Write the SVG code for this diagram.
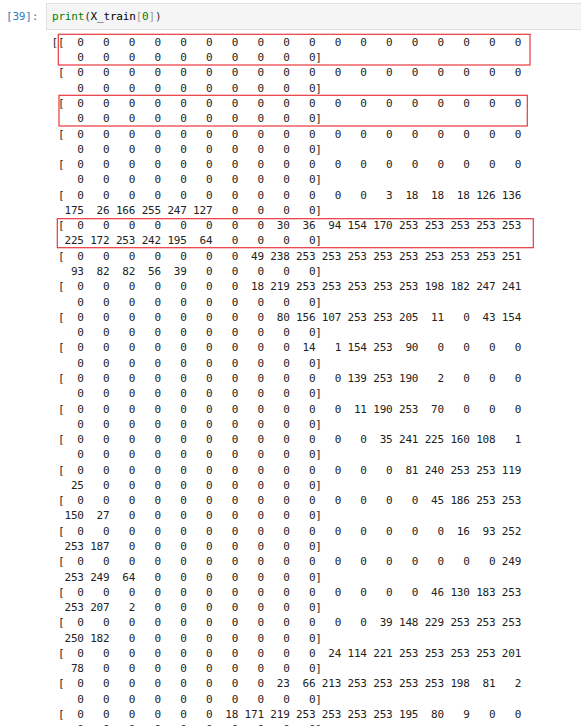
<svg xmlns="http://www.w3.org/2000/svg" width="581" height="726" viewBox="0 0 581 726">
<style>
.mono{font-family:"DejaVu Sans Mono","Liberation Mono",monospace;font-size:11px;letter-spacing:-0.19px}
.out{fill:#222}
.hl{fill:none;stroke:#e8383d;stroke-width:1.2}
</style>
<rect x="0" y="0" width="581" height="726" fill="#ffffff"/>
<g id="prompt">
<text class="mono" x="6" y="20" fill="#307fc1">[39]:</text>
</g>
<g id="input-cell">
<rect x="46.5" y="3.5" width="540" height="26" fill="#f5f5f5" stroke="#e0e0e0" stroke-width="1"/>
<text class="mono" x="52" y="20"><tspan fill="#008000">print</tspan><tspan fill="#333">(</tspan><tspan fill="#000">X_train</tspan><tspan fill="#999">[</tspan><tspan fill="#008000">0</tspan><tspan fill="#999">]</tspan><tspan fill="#333">)</tspan></text>
</g>
<g id="output" class="mono out">
<text x="51.6" y="45.9">[[&#160;&#160;0&#160;&#160;&#160;0&#160;&#160;&#160;0&#160;&#160;&#160;0&#160;&#160;&#160;0&#160;&#160;&#160;0&#160;&#160;&#160;0&#160;&#160;&#160;0&#160;&#160;&#160;0&#160;&#160;&#160;0&#160;&#160;&#160;0&#160;&#160;&#160;0&#160;&#160;&#160;0&#160;&#160;&#160;0&#160;&#160;&#160;0&#160;&#160;&#160;0&#160;&#160;&#160;0&#160;&#160;&#160;0</text>
<text x="51.6" y="61.18">&#160;&#160;&#160;&#160;0&#160;&#160;&#160;0&#160;&#160;&#160;0&#160;&#160;&#160;0&#160;&#160;&#160;0&#160;&#160;&#160;0&#160;&#160;&#160;0&#160;&#160;&#160;0&#160;&#160;&#160;0&#160;&#160;&#160;0]</text>
<text x="51.6" y="76.45">&#160;[&#160;&#160;0&#160;&#160;&#160;0&#160;&#160;&#160;0&#160;&#160;&#160;0&#160;&#160;&#160;0&#160;&#160;&#160;0&#160;&#160;&#160;0&#160;&#160;&#160;0&#160;&#160;&#160;0&#160;&#160;&#160;0&#160;&#160;&#160;0&#160;&#160;&#160;0&#160;&#160;&#160;0&#160;&#160;&#160;0&#160;&#160;&#160;0&#160;&#160;&#160;0&#160;&#160;&#160;0&#160;&#160;&#160;0</text>
<text x="51.6" y="91.73">&#160;&#160;&#160;&#160;0&#160;&#160;&#160;0&#160;&#160;&#160;0&#160;&#160;&#160;0&#160;&#160;&#160;0&#160;&#160;&#160;0&#160;&#160;&#160;0&#160;&#160;&#160;0&#160;&#160;&#160;0&#160;&#160;&#160;0]</text>
<text x="51.6" y="107.0">&#160;[&#160;&#160;0&#160;&#160;&#160;0&#160;&#160;&#160;0&#160;&#160;&#160;0&#160;&#160;&#160;0&#160;&#160;&#160;0&#160;&#160;&#160;0&#160;&#160;&#160;0&#160;&#160;&#160;0&#160;&#160;&#160;0&#160;&#160;&#160;0&#160;&#160;&#160;0&#160;&#160;&#160;0&#160;&#160;&#160;0&#160;&#160;&#160;0&#160;&#160;&#160;0&#160;&#160;&#160;0&#160;&#160;&#160;0</text>
<text x="51.6" y="122.28">&#160;&#160;&#160;&#160;0&#160;&#160;&#160;0&#160;&#160;&#160;0&#160;&#160;&#160;0&#160;&#160;&#160;0&#160;&#160;&#160;0&#160;&#160;&#160;0&#160;&#160;&#160;0&#160;&#160;&#160;0&#160;&#160;&#160;0]</text>
<text x="51.6" y="137.55">&#160;[&#160;&#160;0&#160;&#160;&#160;0&#160;&#160;&#160;0&#160;&#160;&#160;0&#160;&#160;&#160;0&#160;&#160;&#160;0&#160;&#160;&#160;0&#160;&#160;&#160;0&#160;&#160;&#160;0&#160;&#160;&#160;0&#160;&#160;&#160;0&#160;&#160;&#160;0&#160;&#160;&#160;0&#160;&#160;&#160;0&#160;&#160;&#160;0&#160;&#160;&#160;0&#160;&#160;&#160;0&#160;&#160;&#160;0</text>
<text x="51.6" y="152.83">&#160;&#160;&#160;&#160;0&#160;&#160;&#160;0&#160;&#160;&#160;0&#160;&#160;&#160;0&#160;&#160;&#160;0&#160;&#160;&#160;0&#160;&#160;&#160;0&#160;&#160;&#160;0&#160;&#160;&#160;0&#160;&#160;&#160;0]</text>
<text x="51.6" y="168.1">&#160;[&#160;&#160;0&#160;&#160;&#160;0&#160;&#160;&#160;0&#160;&#160;&#160;0&#160;&#160;&#160;0&#160;&#160;&#160;0&#160;&#160;&#160;0&#160;&#160;&#160;0&#160;&#160;&#160;0&#160;&#160;&#160;0&#160;&#160;&#160;0&#160;&#160;&#160;0&#160;&#160;&#160;0&#160;&#160;&#160;0&#160;&#160;&#160;0&#160;&#160;&#160;0&#160;&#160;&#160;0&#160;&#160;&#160;0</text>
<text x="51.6" y="183.38">&#160;&#160;&#160;&#160;0&#160;&#160;&#160;0&#160;&#160;&#160;0&#160;&#160;&#160;0&#160;&#160;&#160;0&#160;&#160;&#160;0&#160;&#160;&#160;0&#160;&#160;&#160;0&#160;&#160;&#160;0&#160;&#160;&#160;0]</text>
<text x="51.6" y="198.65">&#160;[&#160;&#160;0&#160;&#160;&#160;0&#160;&#160;&#160;0&#160;&#160;&#160;0&#160;&#160;&#160;0&#160;&#160;&#160;0&#160;&#160;&#160;0&#160;&#160;&#160;0&#160;&#160;&#160;0&#160;&#160;&#160;0&#160;&#160;&#160;0&#160;&#160;&#160;0&#160;&#160;&#160;3&#160;&#160;18&#160;&#160;18&#160;&#160;18&#160;126&#160;136</text>
<text x="51.6" y="213.93">&#160;&#160;175&#160;&#160;26&#160;166&#160;255&#160;247&#160;127&#160;&#160;&#160;0&#160;&#160;&#160;0&#160;&#160;&#160;0&#160;&#160;&#160;0]</text>
<text x="51.6" y="229.2">&#160;[&#160;&#160;0&#160;&#160;&#160;0&#160;&#160;&#160;0&#160;&#160;&#160;0&#160;&#160;&#160;0&#160;&#160;&#160;0&#160;&#160;&#160;0&#160;&#160;&#160;0&#160;&#160;30&#160;&#160;36&#160;&#160;94&#160;154&#160;170&#160;253&#160;253&#160;253&#160;253&#160;253</text>
<text x="51.6" y="244.48">&#160;&#160;225&#160;172&#160;253&#160;242&#160;195&#160;&#160;64&#160;&#160;&#160;0&#160;&#160;&#160;0&#160;&#160;&#160;0&#160;&#160;&#160;0]</text>
<text x="51.6" y="259.75">&#160;[&#160;&#160;0&#160;&#160;&#160;0&#160;&#160;&#160;0&#160;&#160;&#160;0&#160;&#160;&#160;0&#160;&#160;&#160;0&#160;&#160;&#160;0&#160;&#160;49&#160;238&#160;253&#160;253&#160;253&#160;253&#160;253&#160;253&#160;253&#160;253&#160;251</text>
<text x="51.6" y="275.03">&#160;&#160;&#160;93&#160;&#160;82&#160;&#160;82&#160;&#160;56&#160;&#160;39&#160;&#160;&#160;0&#160;&#160;&#160;0&#160;&#160;&#160;0&#160;&#160;&#160;0&#160;&#160;&#160;0]</text>
<text x="51.6" y="290.3">&#160;[&#160;&#160;0&#160;&#160;&#160;0&#160;&#160;&#160;0&#160;&#160;&#160;0&#160;&#160;&#160;0&#160;&#160;&#160;0&#160;&#160;&#160;0&#160;&#160;18&#160;219&#160;253&#160;253&#160;253&#160;253&#160;253&#160;198&#160;182&#160;247&#160;241</text>
<text x="51.6" y="305.58">&#160;&#160;&#160;&#160;0&#160;&#160;&#160;0&#160;&#160;&#160;0&#160;&#160;&#160;0&#160;&#160;&#160;0&#160;&#160;&#160;0&#160;&#160;&#160;0&#160;&#160;&#160;0&#160;&#160;&#160;0&#160;&#160;&#160;0]</text>
<text x="51.6" y="320.85">&#160;[&#160;&#160;0&#160;&#160;&#160;0&#160;&#160;&#160;0&#160;&#160;&#160;0&#160;&#160;&#160;0&#160;&#160;&#160;0&#160;&#160;&#160;0&#160;&#160;&#160;0&#160;&#160;80&#160;156&#160;107&#160;253&#160;253&#160;205&#160;&#160;11&#160;&#160;&#160;0&#160;&#160;43&#160;154</text>
<text x="51.6" y="336.13">&#160;&#160;&#160;&#160;0&#160;&#160;&#160;0&#160;&#160;&#160;0&#160;&#160;&#160;0&#160;&#160;&#160;0&#160;&#160;&#160;0&#160;&#160;&#160;0&#160;&#160;&#160;0&#160;&#160;&#160;0&#160;&#160;&#160;0]</text>
<text x="51.6" y="351.4">&#160;[&#160;&#160;0&#160;&#160;&#160;0&#160;&#160;&#160;0&#160;&#160;&#160;0&#160;&#160;&#160;0&#160;&#160;&#160;0&#160;&#160;&#160;0&#160;&#160;&#160;0&#160;&#160;&#160;0&#160;&#160;14&#160;&#160;&#160;1&#160;154&#160;253&#160;&#160;90&#160;&#160;&#160;0&#160;&#160;&#160;0&#160;&#160;&#160;0&#160;&#160;&#160;0</text>
<text x="51.6" y="366.68">&#160;&#160;&#160;&#160;0&#160;&#160;&#160;0&#160;&#160;&#160;0&#160;&#160;&#160;0&#160;&#160;&#160;0&#160;&#160;&#160;0&#160;&#160;&#160;0&#160;&#160;&#160;0&#160;&#160;&#160;0&#160;&#160;&#160;0]</text>
<text x="51.6" y="381.95">&#160;[&#160;&#160;0&#160;&#160;&#160;0&#160;&#160;&#160;0&#160;&#160;&#160;0&#160;&#160;&#160;0&#160;&#160;&#160;0&#160;&#160;&#160;0&#160;&#160;&#160;0&#160;&#160;&#160;0&#160;&#160;&#160;0&#160;&#160;&#160;0&#160;139&#160;253&#160;190&#160;&#160;&#160;2&#160;&#160;&#160;0&#160;&#160;&#160;0&#160;&#160;&#160;0</text>
<text x="51.6" y="397.23">&#160;&#160;&#160;&#160;0&#160;&#160;&#160;0&#160;&#160;&#160;0&#160;&#160;&#160;0&#160;&#160;&#160;0&#160;&#160;&#160;0&#160;&#160;&#160;0&#160;&#160;&#160;0&#160;&#160;&#160;0&#160;&#160;&#160;0]</text>
<text x="51.6" y="412.5">&#160;[&#160;&#160;0&#160;&#160;&#160;0&#160;&#160;&#160;0&#160;&#160;&#160;0&#160;&#160;&#160;0&#160;&#160;&#160;0&#160;&#160;&#160;0&#160;&#160;&#160;0&#160;&#160;&#160;0&#160;&#160;&#160;0&#160;&#160;&#160;0&#160;&#160;11&#160;190&#160;253&#160;&#160;70&#160;&#160;&#160;0&#160;&#160;&#160;0&#160;&#160;&#160;0</text>
<text x="51.6" y="427.78">&#160;&#160;&#160;&#160;0&#160;&#160;&#160;0&#160;&#160;&#160;0&#160;&#160;&#160;0&#160;&#160;&#160;0&#160;&#160;&#160;0&#160;&#160;&#160;0&#160;&#160;&#160;0&#160;&#160;&#160;0&#160;&#160;&#160;0]</text>
<text x="51.6" y="443.05">&#160;[&#160;&#160;0&#160;&#160;&#160;0&#160;&#160;&#160;0&#160;&#160;&#160;0&#160;&#160;&#160;0&#160;&#160;&#160;0&#160;&#160;&#160;0&#160;&#160;&#160;0&#160;&#160;&#160;0&#160;&#160;&#160;0&#160;&#160;&#160;0&#160;&#160;&#160;0&#160;&#160;35&#160;241&#160;225&#160;160&#160;108&#160;&#160;&#160;1</text>
<text x="51.6" y="458.33">&#160;&#160;&#160;&#160;0&#160;&#160;&#160;0&#160;&#160;&#160;0&#160;&#160;&#160;0&#160;&#160;&#160;0&#160;&#160;&#160;0&#160;&#160;&#160;0&#160;&#160;&#160;0&#160;&#160;&#160;0&#160;&#160;&#160;0]</text>
<text x="51.6" y="473.6">&#160;[&#160;&#160;0&#160;&#160;&#160;0&#160;&#160;&#160;0&#160;&#160;&#160;0&#160;&#160;&#160;0&#160;&#160;&#160;0&#160;&#160;&#160;0&#160;&#160;&#160;0&#160;&#160;&#160;0&#160;&#160;&#160;0&#160;&#160;&#160;0&#160;&#160;&#160;0&#160;&#160;&#160;0&#160;&#160;81&#160;240&#160;253&#160;253&#160;119</text>
<text x="51.6" y="488.88">&#160;&#160;&#160;25&#160;&#160;&#160;0&#160;&#160;&#160;0&#160;&#160;&#160;0&#160;&#160;&#160;0&#160;&#160;&#160;0&#160;&#160;&#160;0&#160;&#160;&#160;0&#160;&#160;&#160;0&#160;&#160;&#160;0]</text>
<text x="51.6" y="504.15">&#160;[&#160;&#160;0&#160;&#160;&#160;0&#160;&#160;&#160;0&#160;&#160;&#160;0&#160;&#160;&#160;0&#160;&#160;&#160;0&#160;&#160;&#160;0&#160;&#160;&#160;0&#160;&#160;&#160;0&#160;&#160;&#160;0&#160;&#160;&#160;0&#160;&#160;&#160;0&#160;&#160;&#160;0&#160;&#160;&#160;0&#160;&#160;45&#160;186&#160;253&#160;253</text>
<text x="51.6" y="519.43">&#160;&#160;150&#160;&#160;27&#160;&#160;&#160;0&#160;&#160;&#160;0&#160;&#160;&#160;0&#160;&#160;&#160;0&#160;&#160;&#160;0&#160;&#160;&#160;0&#160;&#160;&#160;0&#160;&#160;&#160;0]</text>
<text x="51.6" y="534.7">&#160;[&#160;&#160;0&#160;&#160;&#160;0&#160;&#160;&#160;0&#160;&#160;&#160;0&#160;&#160;&#160;0&#160;&#160;&#160;0&#160;&#160;&#160;0&#160;&#160;&#160;0&#160;&#160;&#160;0&#160;&#160;&#160;0&#160;&#160;&#160;0&#160;&#160;&#160;0&#160;&#160;&#160;0&#160;&#160;&#160;0&#160;&#160;&#160;0&#160;&#160;16&#160;&#160;93&#160;252</text>
<text x="51.6" y="549.98">&#160;&#160;253&#160;187&#160;&#160;&#160;0&#160;&#160;&#160;0&#160;&#160;&#160;0&#160;&#160;&#160;0&#160;&#160;&#160;0&#160;&#160;&#160;0&#160;&#160;&#160;0&#160;&#160;&#160;0]</text>
<text x="51.6" y="565.25">&#160;[&#160;&#160;0&#160;&#160;&#160;0&#160;&#160;&#160;0&#160;&#160;&#160;0&#160;&#160;&#160;0&#160;&#160;&#160;0&#160;&#160;&#160;0&#160;&#160;&#160;0&#160;&#160;&#160;0&#160;&#160;&#160;0&#160;&#160;&#160;0&#160;&#160;&#160;0&#160;&#160;&#160;0&#160;&#160;&#160;0&#160;&#160;&#160;0&#160;&#160;&#160;0&#160;&#160;&#160;0&#160;249</text>
<text x="51.6" y="580.53">&#160;&#160;253&#160;249&#160;&#160;64&#160;&#160;&#160;0&#160;&#160;&#160;0&#160;&#160;&#160;0&#160;&#160;&#160;0&#160;&#160;&#160;0&#160;&#160;&#160;0&#160;&#160;&#160;0]</text>
<text x="51.6" y="595.8">&#160;[&#160;&#160;0&#160;&#160;&#160;0&#160;&#160;&#160;0&#160;&#160;&#160;0&#160;&#160;&#160;0&#160;&#160;&#160;0&#160;&#160;&#160;0&#160;&#160;&#160;0&#160;&#160;&#160;0&#160;&#160;&#160;0&#160;&#160;&#160;0&#160;&#160;&#160;0&#160;&#160;&#160;0&#160;&#160;&#160;0&#160;&#160;46&#160;130&#160;183&#160;253</text>
<text x="51.6" y="611.08">&#160;&#160;253&#160;207&#160;&#160;&#160;2&#160;&#160;&#160;0&#160;&#160;&#160;0&#160;&#160;&#160;0&#160;&#160;&#160;0&#160;&#160;&#160;0&#160;&#160;&#160;0&#160;&#160;&#160;0]</text>
<text x="51.6" y="626.35">&#160;[&#160;&#160;0&#160;&#160;&#160;0&#160;&#160;&#160;0&#160;&#160;&#160;0&#160;&#160;&#160;0&#160;&#160;&#160;0&#160;&#160;&#160;0&#160;&#160;&#160;0&#160;&#160;&#160;0&#160;&#160;&#160;0&#160;&#160;&#160;0&#160;&#160;&#160;0&#160;&#160;39&#160;148&#160;229&#160;253&#160;253&#160;253</text>
<text x="51.6" y="641.63">&#160;&#160;250&#160;182&#160;&#160;&#160;0&#160;&#160;&#160;0&#160;&#160;&#160;0&#160;&#160;&#160;0&#160;&#160;&#160;0&#160;&#160;&#160;0&#160;&#160;&#160;0&#160;&#160;&#160;0]</text>
<text x="51.6" y="656.9">&#160;[&#160;&#160;0&#160;&#160;&#160;0&#160;&#160;&#160;0&#160;&#160;&#160;0&#160;&#160;&#160;0&#160;&#160;&#160;0&#160;&#160;&#160;0&#160;&#160;&#160;0&#160;&#160;&#160;0&#160;&#160;&#160;0&#160;&#160;24&#160;114&#160;221&#160;253&#160;253&#160;253&#160;253&#160;201</text>
<text x="51.6" y="672.18">&#160;&#160;&#160;78&#160;&#160;&#160;0&#160;&#160;&#160;0&#160;&#160;&#160;0&#160;&#160;&#160;0&#160;&#160;&#160;0&#160;&#160;&#160;0&#160;&#160;&#160;0&#160;&#160;&#160;0&#160;&#160;&#160;0]</text>
<text x="51.6" y="687.45">&#160;[&#160;&#160;0&#160;&#160;&#160;0&#160;&#160;&#160;0&#160;&#160;&#160;0&#160;&#160;&#160;0&#160;&#160;&#160;0&#160;&#160;&#160;0&#160;&#160;&#160;0&#160;&#160;23&#160;&#160;66&#160;213&#160;253&#160;253&#160;253&#160;253&#160;198&#160;&#160;81&#160;&#160;&#160;2</text>
<text x="51.6" y="702.73">&#160;&#160;&#160;&#160;0&#160;&#160;&#160;0&#160;&#160;&#160;0&#160;&#160;&#160;0&#160;&#160;&#160;0&#160;&#160;&#160;0&#160;&#160;&#160;0&#160;&#160;&#160;0&#160;&#160;&#160;0&#160;&#160;&#160;0]</text>
<text x="51.6" y="718.0">&#160;[&#160;&#160;0&#160;&#160;&#160;0&#160;&#160;&#160;0&#160;&#160;&#160;0&#160;&#160;&#160;0&#160;&#160;&#160;0&#160;&#160;18&#160;171&#160;219&#160;253&#160;253&#160;253&#160;253&#160;195&#160;&#160;80&#160;&#160;&#160;9&#160;&#160;&#160;0&#160;&#160;&#160;0</text>
<text x="51.6" y="733.28">&#160;&#160;&#160;&#160;0&#160;&#160;&#160;0&#160;&#160;&#160;0&#160;&#160;&#160;0&#160;&#160;&#160;0&#160;&#160;&#160;0&#160;&#160;&#160;0&#160;&#160;&#160;0&#160;&#160;&#160;0&#160;&#160;&#160;0]</text>
</g>
<g id="highlights">
<rect class="hl" x="58.3" y="34.3" width="471.7" height="30.7"/>
<rect class="hl" x="59" y="95.3" width="468.3" height="30.7"/>
<rect class="hl" x="57.3" y="218.7" width="476" height="29"/>
</g>
</svg>
